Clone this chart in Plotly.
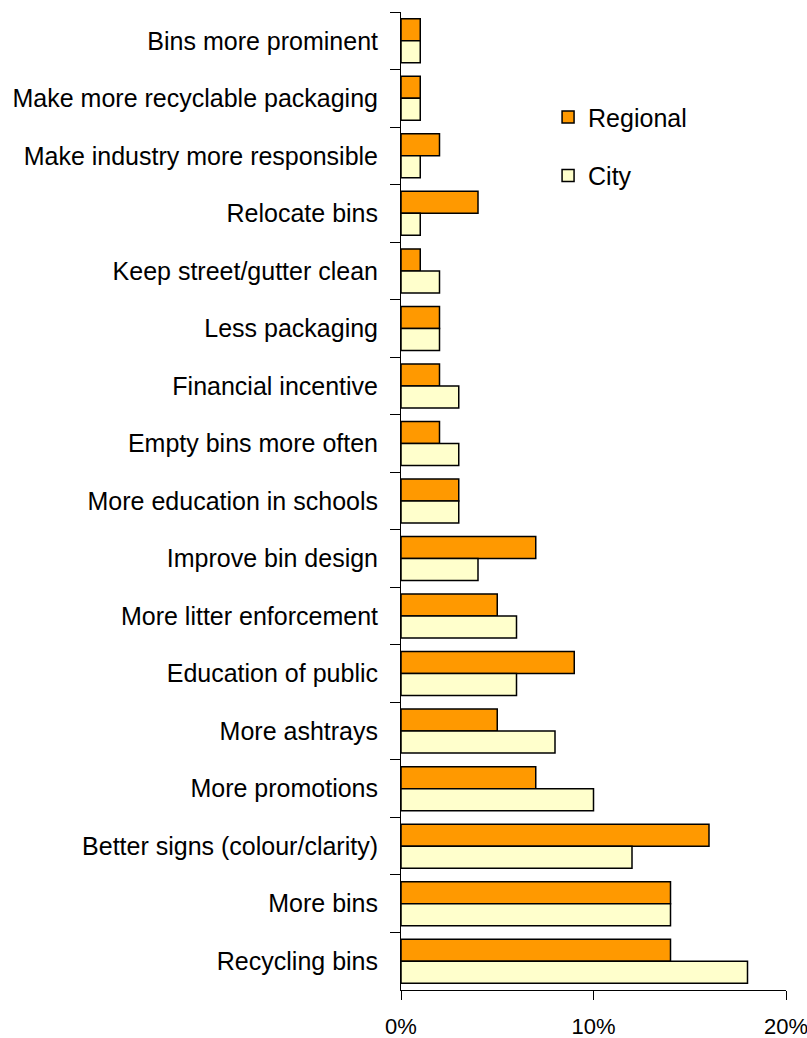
import plotly.graph_objects as go

# Survey responses: suggestions to reduce litter (% of respondents)
categories = [
    "Bins more prominent",
    "Make more recyclable packaging",
    "Make industry more responsible",
    "Relocate bins",
    "Keep street/gutter clean",
    "Less packaging",
    "Financial incentive",
    "Empty bins more often",
    "More education in schools",
    "Improve bin design",
    "More litter enforcement",
    "Education of public",
    "More ashtrays",
    "More promotions",
    "Better signs (colour/clarity)",
    "More bins",
    "Recycling bins",
]
regional = [1, 1, 2, 4, 1, 2, 2, 2, 3, 7, 5, 9, 5, 7, 16, 14, 14]
city = [1, 1, 1, 1, 2, 2, 3, 3, 3, 4, 6, 6, 8, 10, 12, 14, 18]
x_ticks = [0, 10, 20]
x_tick_labels = ["0%", "10%", "20%"]

FONT = "Liberation Sans Narrow, Arial Narrow, Liberation Sans, Arial, sans-serif"

fig = go.Figure()
fig.add_trace(go.Bar(
    name="Regional", y=categories, x=regional, orientation="h",
    legendgroup="regional",
    marker=dict(color="#FF9900", line=dict(color="#000000", width=1.5)),
))
fig.add_trace(go.Bar(
    name="City", y=categories, x=city, orientation="h",
    legendgroup="city",
    marker=dict(color="#FFFFCC", line=dict(color="#000000", width=1.5)),
))

fig.update_layout(
    width=807, height=1038,
    margin=dict(l=401, r=21, t=12, b=48),
    paper_bgcolor="white", plot_bgcolor="white",
    barmode="group", bargap=0.235, bargroupgap=0,
    font=dict(family=FONT, size=25, color="#000000"),
    showlegend=True,
    legend=dict(
        x=0.382, y=0.916, xanchor="left", yanchor="top",
        bgcolor="rgba(0,0,0,0)", font=dict(size=25),
        tracegroupgap=23,
    ),
)
fig.update_xaxes(
    range=[0, 20.0001], tickvals=x_ticks, ticktext=x_tick_labels,
    showgrid=False, zeroline=False, automargin=False,
    showline=True, linecolor="#000000", linewidth=1,
    ticks="outside", ticklen=9, tickcolor="#000000",
    tickfont=dict(size=22), ticklabelstandoff=8, ticklabeloverflow="allow",
)
fig.update_yaxes(
    autorange="reversed", type="category",
    showgrid=False, zeroline=False, automargin=False,
    showline=True, linecolor="#000000", linewidth=1,
    ticks="outside", ticklen=10, tickcolor="#000000", tickson="boundaries",
    tickfont=dict(size=25), ticklabelstandoff=17,
)

fig.write_html("out.html")
